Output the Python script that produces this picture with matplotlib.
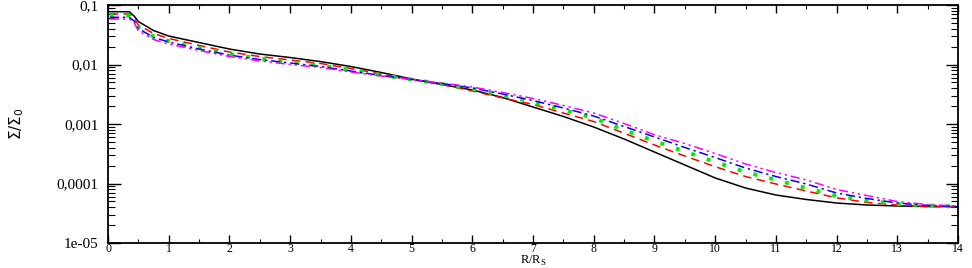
import matplotlib
matplotlib.use('Agg')
import matplotlib.pyplot as plt

FontSize = 11

# radius grid (R/R_s)
r = [0.03, 0.35, 0.43, 0.5, 0.75, 1, 1.5, 2, 2.5, 3, 3.5, 4, 4.5, 5, 5.5, 6, 6.5, 7,
     7.5, 8, 8.5, 9, 9.5, 10, 10.5, 11, 11.5, 12, 12.5, 13, 13.5, 14]

sigma_black = [0.0771, 0.0771, 0.0653, 0.0528, 0.0372, 0.0301, 0.0234, 0.0182, 0.0150,
               0.0131, 0.0112, 0.00925, 0.00734, 0.00571, 0.00461, 0.00373, 0.00279,
               0.00193, 0.00134, 0.00089, 0.00056, 0.000338, 0.000205, 0.000124,
               8.40e-5, 6.41e-5, 5.39e-5, 4.70e-5, 4.35e-5, 4.19e-5, 4.10e-5, 4.10e-5]
sigma_red = [0.0706, 0.0706, 0.0605, 0.0461, 0.0332, 0.0274, 0.0209, 0.0162, 0.0136,
             0.0119, 0.0104, 0.00857, 0.00692, 0.00560, 0.00461, 0.00359, 0.00274,
             0.00213, 0.00153, 0.00110, 0.000700, 0.000444, 0.000290, 0.000192,
             0.000131, 9.82e-5, 7.48e-5, 5.75e-5, 4.80e-5, 4.35e-5, 4.10e-5, 4.03e-5]
sigma_green = [0.0661, 0.0661, 0.0560, 0.0419, 0.0296, 0.0248, 0.0189, 0.0150, 0.0126,
               0.0110, 0.00962, 0.00809, 0.00667, 0.00560, 0.00470, 0.00387, 0.00307,
               0.00234, 0.00172, 0.00126, 0.000792, 0.000518, 0.000345, 0.000230,
               0.000156, 0.000115, 8.40e-5, 6.16e-5, 5.18e-5, 4.52e-5, 4.27e-5, 4.10e-5]
sigma_blue = [0.0621, 0.0621, 0.0538, 0.0403, 0.0285, 0.0239, 0.0182, 0.0144, 0.0121,
              0.0106, 0.00925, 0.00778, 0.00653, 0.00560, 0.00480, 0.00403, 0.00319,
              0.00248, 0.00186, 0.00136, 0.000908, 0.000605, 0.000403, 0.000273,
              0.000182, 0.000131, 9.82e-5, 6.92e-5, 5.60e-5, 4.70e-5, 4.27e-5, 4.10e-5]
sigma_magenta = [0.0582, 0.0582, 0.0498, 0.0372, 0.0263, 0.0221, 0.0172, 0.0136, 0.0115,
                 0.0100, 0.00891, 0.00748, 0.00641, 0.00560, 0.00489, 0.00419, 0.00338,
                 0.00269, 0.00205, 0.00153, 0.00102, 0.00066, 0.000470, 0.000319,
                 0.000213, 0.000153, 0.000115, 7.93e-5, 6.28e-5, 4.98e-5, 4.43e-5, 4.19e-5]

y_ticks = [1e-5, 1e-4, 1e-3, 1e-2, 1e-1]
y_ticklabels = ['1e-05', '0,0001', '0,001', '0,01', '0,1']
x_ticks = list(range(0, 15))

plt.rcParams['font.family'] = ['Liberation Serif', 'DejaVu Serif']

fig = plt.figure(figsize=(9.72, 2.68), dpi=100)
ax = fig.add_axes([108 / 972, 1 - 243 / 268, 850 / 972, 238 / 268])

ax.plot(r, sigma_black, color='black', lw=1.1)
ax.plot(r, sigma_red, color='#ff0000', lw=1.1, linestyle=(0, (5.5, 3.5)))
ax.plot(r, sigma_green, color='#00ee00', lw=2.8, linestyle=(0, (1, 3.2)))
ax.plot(r, sigma_blue, color='#0000ff', lw=1.1, linestyle=(0, (6, 2.5, 1.5, 2.5)))
ax.plot(r, sigma_magenta, color='#ff00ff', lw=1.1,
        linestyle=(0, (6, 2.5, 1.5, 2.5, 1.5, 2.5)))

ax.set_yscale('log')
ax.set_xlim(0, 14)
ax.set_ylim(1e-5, 0.1)
ax.set_yticks(y_ticks)
ax.set_yticklabels(y_ticklabels)
ax.set_xticks(x_ticks)
ax.set_xticks([x + 0.5 for x in range(14)], minor=True)

ax.tick_params(which='both', direction='in', top=True, right=True)
ax.tick_params(axis='y', labelsize=FontSize, pad=7)
ax.tick_params(axis='x', labelsize=8.5, pad=0)
ax.tick_params(which='major', axis='y', length=9, width=1)
ax.tick_params(which='minor', axis='y', length=5, width=0.8)
ax.tick_params(which='major', axis='x', length=6, width=1)
ax.tick_params(which='minor', axis='x', length=3, width=0.8)
for s in ax.spines.values():
    s.set_linewidth(1.3)

ax.set_xlabel(r'R/R$_\mathregular{S}$', fontsize=9, va='bottom')
ax.xaxis.set_label_coords(0.5, -0.106)
ax.set_ylabel(r'$\Sigma/\Sigma_0$', fontsize=FontSize, va='center')
ax.yaxis.set_label_coords(-0.108, 0.5)

plt.savefig('out.png', dpi=100)
